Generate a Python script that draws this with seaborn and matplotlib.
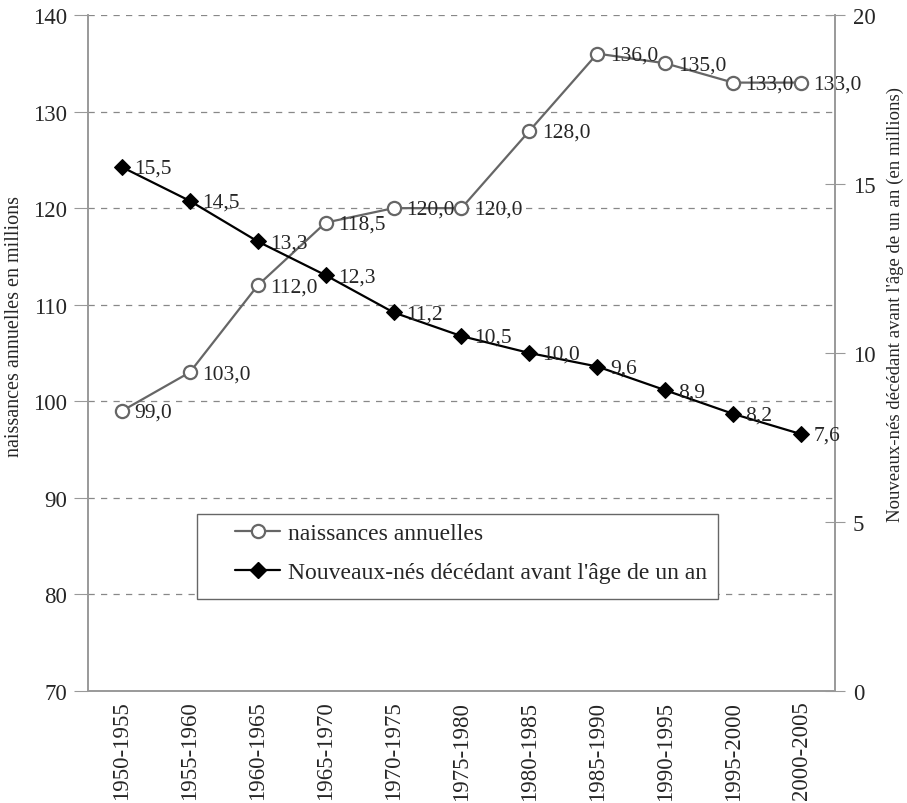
import matplotlib
matplotlib.use("Agg")
import matplotlib.pyplot as plt
import seaborn as sns
import numpy as np
import pandas as pd
from matplotlib.lines import Line2D
from matplotlib.patches import Rectangle
from matplotlib.ticker import FixedLocator

periods = ["1950-1955", "1955-1960", "1960-1965", "1965-1970", "1970-1975",
           "1975-1980", "1980-1985", "1985-1990", "1990-1995", "1995-2000", "2000-2005"]
naissances = [99.0, 103.0, 112.0, 118.5, 120.0, 120.0, 128.0, 136.0, 135.0, 133.0, 133.0]
deces = [15.5, 14.5, 13.3, 12.3, 11.2, 10.5, 10.0, 9.6, 8.9, 8.2, 7.6]
left_ticks = [70, 80, 90, 100, 110, 120, 130, 140]
right_ticks = [0, 5, 10, 15, 20]
label_births = "naissances annuelles"
label_deaths = "Nouveaux-nés décédant avant l'âge de un an"

sns.set_style("white")
plt.rcParams['font.family'] = ['Liberation Serif', 'DejaVu Serif']

df = pd.DataFrame({"pos": np.arange(len(periods)), "periode": periods,
                   "naissances": naissances, "deces": deces})

fig = plt.figure(figsize=(9.07, 8.04), dpi=100)
ax = fig.add_axes([0.097, 0.1393, 0.8236, 0.8408])
ax2 = ax.twinx()

grey = "#666666"
sns.lineplot(data=df, x="pos", y="naissances", ax=ax, color=grey, lw=1.6,
             marker="o", markersize=9.5, markerfacecolor="white",
             markeredgecolor=grey, markeredgewidth=1.6)
sns.lineplot(data=df, x="pos", y="deces", ax=ax2, color="black", lw=1.6,
             marker="D", markersize=8, markerfacecolor="black",
             markeredgecolor="black")

fs_tick = 16.5
fs_data = 15.5
for x, v in zip(df["pos"], naissances):
    ax.annotate(f"{v:.1f}".replace(".", ","), (x, v), xytext=(9, -1),
                textcoords="offset points", va="center", ha="left", fontsize=fs_data)
for x, v in zip(df["pos"], deces):
    ax2.annotate(f"{v:.1f}".replace(".", ","), (x, v), xytext=(9, -1),
                 textcoords="offset points", va="center", ha="left", fontsize=fs_data)

ax.set_xlim(-0.5, len(periods) - 0.5)
ax.set_ylim(70, 140)
ax2.set_ylim(0, 20)
ax.set_yticks(left_ticks)
ax2.set_yticks(right_ticks)

ax.xaxis.set_major_locator(FixedLocator(np.arange(-0.5, len(periods), 1.0)))
ax.set_xticklabels([])
ax.xaxis.set_minor_locator(FixedLocator(np.arange(len(periods))))
ax.set_xticklabels(periods, minor=True, rotation=90, fontsize=fs_tick)
ax.tick_params(axis="x", which="minor", length=0, pad=7)
ax.tick_params(axis="x", which="major", direction="inout", length=14,
               color="#999999", width=1)
ax.tick_params(axis="y", direction="out", length=10, color="#999999",
               labelsize=fs_tick, pad=5)
ax2.tick_params(axis="y", direction="inout", length=14, color="#999999",
                labelsize=fs_tick, pad=6)

ax.yaxis.grid(True, linestyle=(0, (5, 5)), color="#888888", lw=0.9)
ax.xaxis.grid(False)
ax2.grid(False)

for a in (ax, ax2):
    for s in ["left", "right", "bottom"]:
        a.spines[s].set_color("#999999")
        a.spines[s].set_linewidth(1.2)
    a.spines["top"].set_visible(False)

ax.set_xlabel("")
ax.set_ylabel("naissances annuelles en millions", fontsize=14.5)
ax.yaxis.set_label_coords(-0.0857, 0.54)
ax2.set_ylabel(label_deaths + " (en millions)", fontsize=13.5)
ax2.yaxis.set_label_coords(1.0696, 0.5725)

# legend frame
ax2.add_patch(Rectangle((0.146, 0.136), 0.697, 0.126, transform=ax2.transAxes,
                        facecolor="white", edgecolor="#666666", lw=1.0, zorder=4))
handles = [
    Line2D([], [], color=grey, lw=1.6, marker="o", markersize=9.5,
           markerfacecolor="white", markeredgecolor=grey, markeredgewidth=1.6),
    Line2D([], [], color="black", lw=1.6, marker="D", markersize=8,
           markerfacecolor="black"),
]
leg = ax2.legend(handles, [label_births, label_deaths], loc="upper left",
                 bbox_to_anchor=(0.197, 0.249), fontsize=17, frameon=False,
                 handlelength=1.9, labelspacing=0.75, borderpad=0,
                 handletextpad=0.35, borderaxespad=0)
leg.set_zorder(5)

fig.savefig("out.png", dpi=100)
